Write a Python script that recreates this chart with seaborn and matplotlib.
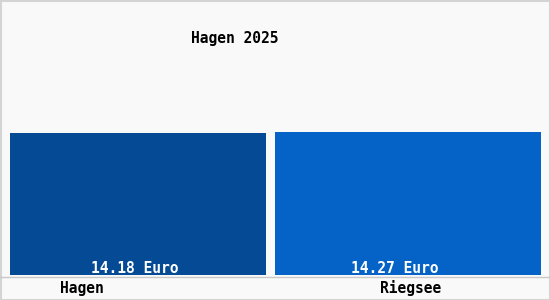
import matplotlib
matplotlib.use("Agg")
import matplotlib.pyplot as plt
import seaborn as sns
import pandas as pd
from matplotlib.patches import Rectangle
from matplotlib.lines import Line2D

categories = ["Hagen", "Riegsee"]
values = [14.18, 14.27]
value_labels = ["14.18 Euro", "14.27 Euro"]
colors = ["#044a94", "#0562c6"]
title = "Hagen 2025"

sns.set_theme(style="white")
plt.rcParams['font.family'] = ['DejaVu Sans Mono', 'DejaVu Sans']

W, H = 550, 300
fig = plt.figure(figsize=(5.5, 3.0), dpi=100, facecolor="#f9f9f9")
ax = fig.add_axes([10 / W, (H - 275) / H, 531 / W, 270 / H])
ax.set_facecolor("#f9f9f9")

df = pd.DataFrame({"cat": categories, "val": values})
bar_widths = [0.948, 0.985]
for i, c in enumerate(categories):
    sns.barplot(data=df[df["cat"] == c], x="cat", y="val", hue="cat",
                order=categories, hue_order=categories, palette=colors,
                width=bar_widths[i], legend=False, ax=ax, saturation=1,
                linewidth=0, dodge=False)

ax.set_xlim(-0.474, 1.4926)
ax.set_ylim(0, 26.94)
for s in ax.spines.values():
    s.set_visible(False)
ax.set_xticks([])
ax.set_yticks([])
ax.set_xlabel("")
ax.set_ylabel("")

label_offsets = [-0.013, -0.05]
for i, (v, lab) in enumerate(zip(values, value_labels)):
    ax.text(i + label_offsets[i], -0.1, lab, ha="center", va="bottom",
            color="white", fontsize=10.5, fontweight="bold")

cat_offsets = [-0.207, 0.011]
for i, c in enumerate(categories):
    ax.text(i + cat_offsets[i], -1.3, c, ha="center", va="center",
            color="black", fontsize=10.5, fontweight="bold", clip_on=False)

fig.text(234.5 / W, 1 - 39 / H, title, ha="center", va="center",
         fontsize=10.5, fontweight="bold", color="black")

fig.add_artist(Line2D([0, 1], [1 - 277 / H, 1 - 277 / H], color="#c8c8c8",
                      linewidth=1, transform=fig.transFigure))
fig.add_artist(Rectangle((0.5 / W, 0.5 / H), 1 - 1 / W, 1 - 1 / H,
                         transform=fig.transFigure, fill=False,
                         edgecolor="#d4d4d4", linewidth=1.5))

fig.savefig("out.png", dpi=100, facecolor=fig.get_facecolor())
